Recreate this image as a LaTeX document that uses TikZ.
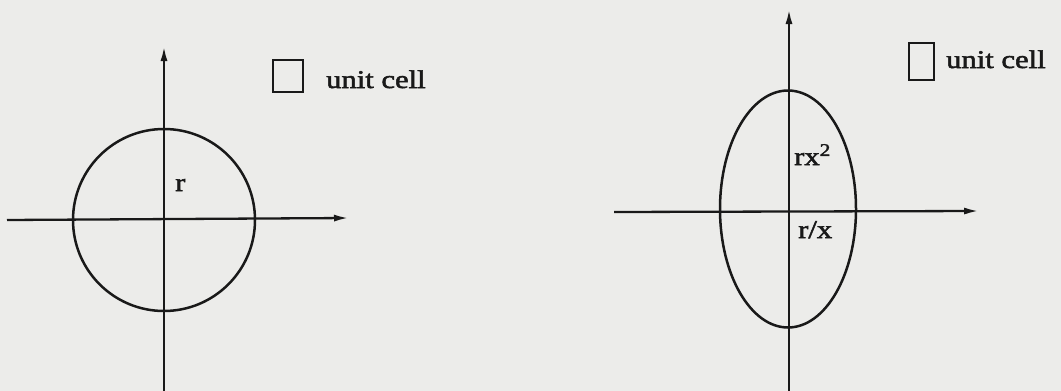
\documentclass[tikz,border=0pt]{standalone}
\usepackage{fontspec}
\newfontfamily\lblfont[FakeStretch=1.2,FakeBold=2]{Liberation Serif}
\usetikzlibrary{arrows.meta}
\definecolor{paper}{RGB}{236,236,234}
\definecolor{ink}{RGB}{25,25,25}
\tikzset{
  ax/.style={draw=ink,line width=2.3pt,-{Latex[length=15pt,width=7pt]}},
  curve/.style={draw=ink,line width=2.5pt},
  cellbox/.style={draw=ink,line width=2.5pt},
  lbl/.style={inner sep=0pt,text=ink,font=\lblfont\fontsize{25.5}{30}\selectfont},
}
\begin{document}
\begin{tikzpicture}[x=1pt,y=-1pt]
\fill[paper] (0,0) rectangle (1061,391);
\useasboundingbox (0,0) rectangle (1061,391);
% left diagram
\coordinate (lxs) at (7,220);
\coordinate (lxe) at (349,218);
\coordinate (lys) at (164,391);
\coordinate (lye) at (164,46);
\draw[curve] (164,220) circle[radius=91pt];
\draw[ax] (lxs) -- (lxe);
\draw[ax] (lys) -- (lye);
\node[lbl,anchor=base west] (lr) at (175,191) {r};
\draw[cellbox] (273,60) rectangle (303,92);
\node[lbl,anchor=base west] (lcell) at (326,88) {unit cell};
% right diagram
\coordinate (rxs) at (614,212);
\coordinate (rxe) at (979,211);
\coordinate (rys) at (789,391);
\coordinate (rye) at (789,9);
\draw[curve] (788,209) ellipse[x radius=68pt,y radius=118.5pt];
\draw[ax] (rxs) -- (rxe);
\draw[ax] (rys) -- (rye);
\node[lbl,anchor=base west] (rrx) at (794,165) {rx\textsuperscript{2}};
\node[lbl,anchor=base west] (rrx2) at (798,238) {r/x};
\draw[cellbox] (909,43) rectangle (934,80);
\node[lbl,anchor=base west] (rcell) at (946,68) {unit cell};
\end{tikzpicture}
\end{document}
